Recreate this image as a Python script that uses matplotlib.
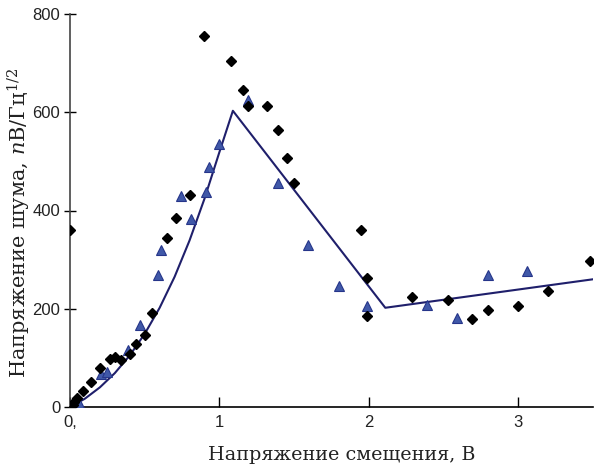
import matplotlib
matplotlib.use('Agg')
import matplotlib.pyplot as plt

# экспериментальные точки (ромбы)
diam_x = [0.0, 0.02, 0.03, 0.05, 0.09, 0.14, 0.20, 0.27, 0.30, 0.34, 0.40, 0.44,
          0.50, 0.55, 0.65, 0.71, 0.80, 0.90, 1.08, 1.16, 1.19, 1.32, 1.39, 1.45,
          1.50, 1.95, 1.99, 1.99, 2.29, 2.53, 2.69, 2.80, 3.00, 3.20, 3.48]
diam_y = [360, 5, 10, 18, 33, 50, 80, 98, 102, 95, 108, 128,
          147, 192, 345, 385, 432, 755, 705, 646, 613, 613, 564, 507,
          456, 360, 262, 186, 224, 218, 180, 198, 206, 237, 298]

# экспериментальные точки (треугольники)
tri_x = [0.03, 0.06, 0.21, 0.25, 0.39, 0.47, 0.59, 0.61, 0.74, 0.81, 0.91, 0.93,
         1.00, 1.19, 1.39, 1.59, 1.80, 1.99, 2.39, 2.59, 2.80, 3.06]
tri_y = [3, 8, 68, 72, 117, 166, 268, 320, 430, 382, 437, 489,
         535, 625, 456, 330, 246, 206, 207, 181, 268, 277]

# расчётная кривая
fit_x = [0.0, 0.1, 0.2, 0.3, 0.4, 0.5, 0.6, 0.7, 0.8, 0.9, 1.0,
         1.09, 2.11, 3.5]
fit_y = [0, 17, 40, 69, 105, 149, 202, 265, 339, 424, 519,
         603, 202, 260]

x_ticks = [0, 1, 2, 3]
x_ticklabels = ['0,', '1', '2', '3']
y_ticks = [0, 200, 400, 600, 800]

plt.rcParams['mathtext.fontset'] = 'dejavuserif'

fig = plt.figure(figsize=(5.97, 4.66), dpi=100)
ax = fig.add_axes([70 / 597, 59 / 466, 523 / 597, 393 / 466])

ax.plot(fit_x, fit_y, '-', color='#1f1f6b', lw=1.5, zorder=2)
ax.plot(tri_x, tri_y, '^', ms=7, color='#4058a8', mec='#26358a', mew=0.8, zorder=3)
ax.plot(diam_x, diam_y, 'D', ms=4.8, color='black', zorder=4)

ax.set_xlim(0, 3.5)
ax.set_ylim(0, 800)
ax.set_xticks(x_ticks)
ax.set_xticklabels(x_ticklabels)
ax.set_yticks(y_ticks)

tick_font = ['Liberation Sans Narrow', 'Liberation Sans', 'DejaVu Sans']
for lab in ax.get_xticklabels() + ax.get_yticklabels():
    lab.set_family(tick_font)
    lab.set_fontsize(12)
    lab.set_color('#222222')

ax.tick_params(axis='x', direction='in', length=7, width=1, pad=6)
ax.tick_params(axis='y', direction='inout', length=8, width=1, pad=3)

ax.spines['top'].set_visible(False)
ax.spines['right'].set_visible(False)
ax.spines['left'].set_color('#444444')
ax.spines['left'].set_linewidth(1.2)
ax.spines['bottom'].set_color('black')
ax.spines['bottom'].set_linewidth(1.2)

ax.set_ylabel('Напряжение шума, $n$В/Гц$^{1/2}$', family='DejaVu Serif',
              fontsize=15, color='#222222')
ax.yaxis.set_label_coords(-0.07, 0.47)
ax.set_xlabel('Напряжение смещения, В', family='DejaVu Serif',
              fontsize=13.8, color='#222222')
ax.xaxis.set_label_coords(0.52, -0.1)

fig.savefig('out.png', dpi=100)
